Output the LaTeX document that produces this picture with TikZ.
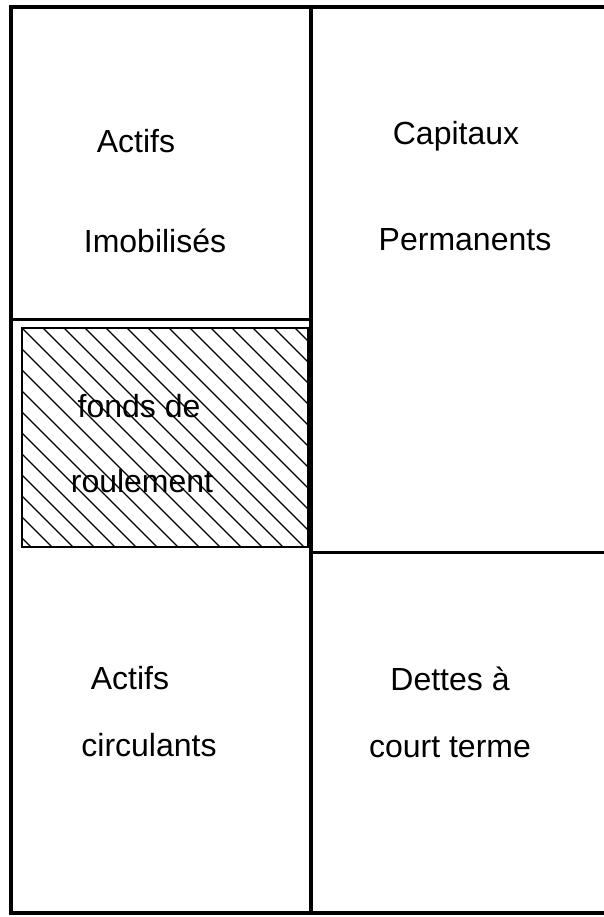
\documentclass[tikz,border=0pt]{standalone}
\usepackage{fontspec}
\setmainfont{Liberation Sans}
\usepackage{tikz}
\usetikzlibrary{positioning}

\begin{document}
\begin{tikzpicture}[
    x=1pt, y=-1pt,
    frame/.style={draw, line width=3.5pt},
    sep/.style={draw, line width=3pt},
    hatchline/.style={draw, line width=1.2pt},
    hatchbox/.style={draw, line width=2pt},
    lbl/.style={anchor=base, inner sep=0pt, font=\fontsize{32}{38}\selectfont},
]
\useasboundingbox (0,0) rectangle (604,917);

% Frame
\coordinate (tl) at (11,7);
\coordinate (bl) at (11,913);
\coordinate (tm) at (311,7);
\coordinate (bm) at (311,913);
\draw[frame] (604,7) -- (tl) -- (bl) -- (604,913);
\draw[frame] (tm) -- (bm);
\draw[sep] (11,319) -- (311,319);
\draw[sep] (311,552) -- (604,552);

% Hatched area
\begin{scope}
\clip (22,328) rectangle (308,547);
\foreach \k in {-12,...,14}
    \draw[hatchline] ({22+21*\k},328) -- ++(240,240);
\end{scope}
\draw[hatchbox] (22,328) rectangle (308,547);

% Labels
\node[lbl] (actA) at (136,153) {Actifs};
\node[lbl] (actB) at (155,252) {Imobilisés};
\node[lbl] (capA) at (456,145) {Capitaux};
\node[lbl] (capB) at (465,250) {Permanents};
\node[lbl] (fdrA) at (139,417) {fonds de};
\node[lbl] (fdrB) at (142,492) {roulement};
\node[lbl] (circA) at (130,689) {Actifs};
\node[lbl] (circB) at (149,756) {circulants};
\node[lbl] (detA) at (450,690) {Dettes à};
\node[lbl] (detB) at (450,757) {court terme};
\end{tikzpicture}
\end{document}
